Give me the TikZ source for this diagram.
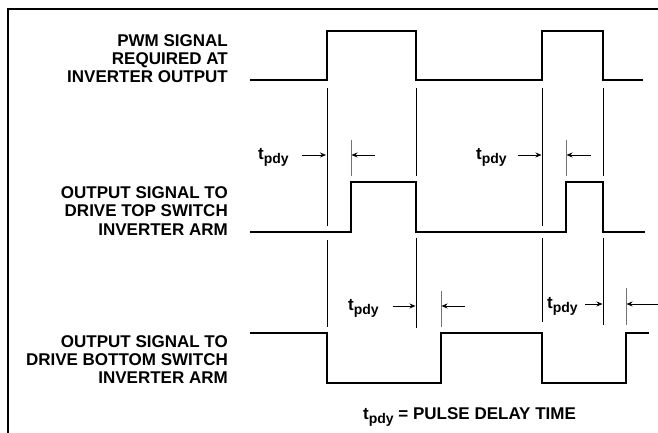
\documentclass[tikz,border=0pt]{standalone}
\usepackage{fontspec}
\setmainfont{Liberation Sans}
\usetikzlibrary{arrows.meta}
\newcommand{\tpdy}{t\raisebox{-4pt}{\fontsize{14}{14}\selectfont pdy}}
\begin{document}
\begin{tikzpicture}[x=1pt,y=-1pt,
  wave/.style={line width=2.4pt,line join=miter,line cap=butt},
  guide/.style={line width=0.9pt},
  gguide/.style={line width=0.9pt,draw=black!55},
  dim/.style={line width=0.8pt,-{Stealth[length=6pt,width=5pt]}},
  lab/.style={anchor=base east,inner sep=0pt,font=\fontsize{17}{18}\bfseries\selectfont},
  tlab/.style={anchor=base west,inner sep=0pt,font=\fontsize{17}{18}\bfseries\selectfont},
  frame/.style={line width=2pt}]
\useasboundingbox (0,0) rectangle (658,433);
% frame
\draw[frame] (8,433) -- (8,9) -- (658,9);
% labels
\node[lab] (a1) at (228,47) {PWM SIGNAL};
\node[lab] (a2) at (228,65) {REQUIRED AT};
\node[lab] (a3) at (228,83) {INVERTER OUTPUT};
\node[lab] (b1) at (228,198) {OUTPUT SIGNAL TO};
\node[lab] (b2) at (228,216) {DRIVE TOP SWITCH};
\node[lab] (b3) at (228,235) {INVERTER ARM};
\node[lab] (c1) at (228,347) {OUTPUT SIGNAL TO};
\node[lab] (c2) at (228,365) {DRIVE BOTTOM SWITCH};
\node[lab] (c3) at (228,383) {INVERTER ARM};
% waveforms
\draw[wave] (250,80) -- (327,80) -- (327,31) -- (416,31) -- (416,80) -- (542,80) -- (542,31) -- (603,31) -- (603,80) -- (643,80);
\draw[wave] (250,232) -- (351,232) -- (351,182) -- (416,182) -- (416,232) -- (566,232) -- (566,182) -- (603,182) -- (603,232) -- (645,232);
\draw[wave] (250,333) -- (327,333) -- (327,383) -- (441,383) -- (441,333) -- (542,333) -- (542,383) -- (626,383) -- (626,333) -- (649,333);
% guide lines
\draw[guide] (327,88) -- (327,226) (327,240) -- (327,327);
\draw[guide] (416,88) -- (416,176) (416,238) -- (416,328);
\draw[guide] (542,88) -- (542,226) (542,238) -- (542,322);
\draw[guide] (603,88) -- (603,176) (603,238) -- (603,325);
\draw[gguide] (351,140) -- (351,176);
\draw[gguide] (566,140) -- (566,176);
\draw[gguide] (441,291) -- (441,327);
\draw[gguide] (626,288) -- (626,325);
% t_pdy labels
\node[tlab] (t1) at (258,159) {\tpdy};
\node[tlab] (t2) at (476,159) {\tpdy};
\node[tlab] (t3) at (348,310) {\tpdy};
\node[tlab] (t4) at (547,308) {\tpdy};
% dimension arrows
\coordinate (p1a) at (302,155); \coordinate (p1b) at (326,155);
\coordinate (q1a) at (375,155); \coordinate (q1b) at (351.5,155);
\coordinate (p2a) at (518,155); \coordinate (p2b) at (541.5,155);
\coordinate (q2a) at (591,155); \coordinate (q2b) at (566.5,155);
\coordinate (p3a) at (393,306); \coordinate (p3b) at (415.5,306);
\coordinate (q3a) at (465,306); \coordinate (q3b) at (441.5,306);
\coordinate (p4a) at (585,304); \coordinate (p4b) at (602.5,304);
\coordinate (q4a) at (658,304); \coordinate (q4b) at (626.5,304);
\draw[dim] (p1a) -- (p1b);
\draw[dim] (q1a) -- (q1b);
\draw[dim] (p2a) -- (p2b);
\draw[dim] (q2a) -- (q2b);
\draw[dim] (p3a) -- (p3b);
\draw[dim] (q3a) -- (q3b);
\draw[dim] (p4a) -- (p4b);
\draw[dim] (q4a) -- (q4b);
% caption
\node[tlab] (cap) at (363,419) {\tpdy\ = PULSE DELAY TIME};
\end{tikzpicture}
\end{document}
